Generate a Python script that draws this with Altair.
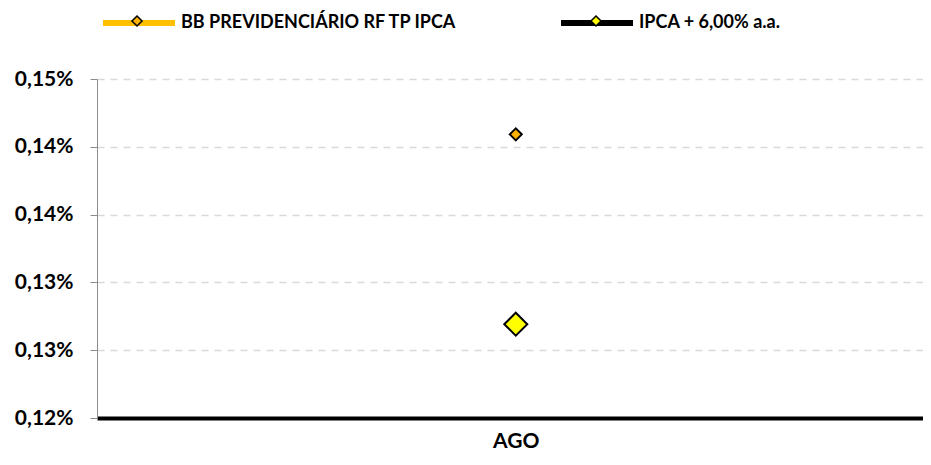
import altair as alt
import pandas as pd

# ---- data ----
meses = ["AGO"]
series = ["BB PREVIDENCIÁRIO RF TP IPCA", "IPCA + 6,00% a.a."]
bb_valores = [0.1451]      # % ao mês
ipca_valores = [0.1283]    # % ao mês
y_ticks = [0.12, 0.126, 0.132, 0.138, 0.144, 0.15]

line_colors = ["#FFC000", "#000000"]
marker_fills = ["#FFB300", "#FFFF00"]
marker_sizes = [144, 529]

rows = []
for i, m in enumerate(meses):
    rows.append({"mes": m, "serie": series[0], "valor": bb_valores[i]})
    rows.append({"mes": m, "serie": series[1], "valor": ipca_valores[i]})
df = pd.DataFrame(rows)
df["serie_m"] = df["serie"]
df["serie_s"] = df["serie"]

FONT = "Lato"
LEG_X = 3
LEG_Y = -95

x_enc = alt.X(
    "mes:N", sort=meses, title=None,
    scale=alt.Scale(type="point", padding=0.5, align=0.507),
    axis=alt.Axis(labelAngle=0, labelFont=FONT, labelFontSize=21, labelFontWeight="bold",
                  labelColor="black", labelPadding=12, ticks=False, grid=False,
                  domainColor="black", domainWidth=4),
)
y_enc = alt.Y(
    "valor:Q", title=None,
    scale=alt.Scale(domain=[0.12, 0.15], nice=False, zero=False),
    axis=alt.Axis(values=y_ticks,
                  labelExpr="replace(format(datum.value, '.2f'), '.', ',') + '%'",
                  labelFont=FONT, labelFontSize=21, labelFontWeight="bold", labelColor="black",
                  labelPadding=17, tickSize=7, tickColor="#8c8c8c", domainColor="#8c8c8c",
                  grid=True, gridColor="#d9d9d9", gridDash=[7, 6], gridWidth=1.5),
)

common_leg = dict(
    orient="none", legendX=LEG_X, legendY=LEG_Y, direction="horizontal", columns=2,
    title=None, labelFont=FONT, labelFontSize=18, labelFontWeight="bold", labelColor="black",
    labelOffset=3, labelLimit=500, padding=0, symbolSize=5184,
)

lines = alt.Chart(df).mark_line(strokeWidth=6).encode(
    x=x_enc, y=y_enc,
    color=alt.Color("serie:N", sort=series,
                    scale=alt.Scale(range=line_colors),
                    legend=alt.Legend(symbolType="stroke", symbolStrokeWidth=6, zindex=1,
                                      columnPadding=92, **common_leg)),
)

points = alt.Chart(df).mark_point(shape="diamond", filled=True, opacity=1,
                                  stroke="black", strokeWidth=2).encode(
    x=x_enc, y=y_enc,
    fill=alt.Fill("serie_m:N", sort=series,
                  scale=alt.Scale(domain=series, range=marker_fills),
                  legend=alt.Legend(symbolType="M0,-0.14L0.14,0L0,0.14L-0.14,0Z",
                                    symbolStrokeColor="black", symbolStrokeWidth=1.5,
                                    symbolOpacity=1, labelOpacity=0, zindex=5,
                                    columnPadding=106, **common_leg)),
    size=alt.Size("serie_s:O", sort=series,
                  scale=alt.Scale(range=marker_sizes), legend=None),
)

chart = alt.layer(lines, points).properties(
    width=826, height=339,
    autosize=alt.AutoSizeParams(type="none"),
    padding={"left": 89, "top": 71, "right": 0, "bottom": 36},
).configure_view(stroke=None)

chart.save("out.html", embed_options={"renderer": "svg", "actions": False})
